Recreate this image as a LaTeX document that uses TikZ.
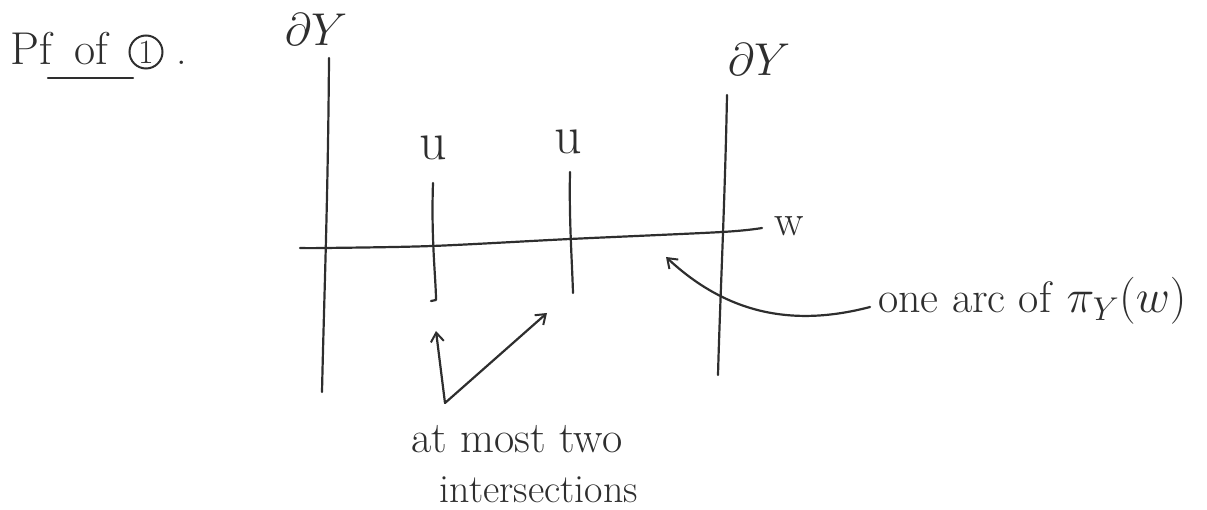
\RequirePackage{fix-cm}
\documentclass[tikz,border=0pt]{standalone}
\usetikzlibrary{arrows.meta}
\definecolor{ink}{HTML}{2E2E2E}
\tikzset{
  stroke/.style={line width=2.2pt, line cap=round, line join=round, draw=ink},
  arr/.style={stroke, -{Straight Barb[length=9pt,width=13pt,line width=2pt]}},
  lbl/.style={inner sep=0pt, text=ink, font=\fontsize{42}{50}\selectfont},
  ulbl/.style={lbl, font=\fontsize{54}{60}\selectfont},
  dlbl/.style={lbl, font=\fontsize{46}{54}\selectfont},
}
\begin{document}
\begin{tikzpicture}[x=1pt,y=-1pt]
\useasboundingbox (0,0) rectangle (1207,510);

% title
\node[lbl, font=\fontsize{46}{54}\selectfont, anchor=base west] (pf) at (10,65) {Pf\hspace{0.5em}of};
\node[draw=ink, line width=2pt, circle, minimum size=33pt, inner sep=0pt, text=ink,
      font=\fontsize{34}{40}\selectfont] (one) at (146,52) {1};
\node[lbl, anchor=base] (dot) at (182,65) {.};
\coordinate (ul1) at (48,78);
\coordinate (ul2) at (133,78);
\draw[stroke] (ul1) -- (ul2);

% boundary labels
\node[dlbl] (dyl) at (316,30) {$\partial Y$};
\node[dlbl] (dyr) at (759,60) {$\partial Y$};

% left boundary
\coordinate (lt) at (329,58);
\coordinate (lb) at (322,392);
\draw[stroke] (lt) .. controls (328,200) and (324,300) .. (lb);

% right boundary
\coordinate (rt) at (727,95);
\coordinate (rb) at (718,375);
\draw[stroke] (rt) .. controls (725,200) and (720,300) .. (rb);

% w curve
\coordinate (wl) at (300,248);
\coordinate (wr) at (762,228);
\draw[stroke] plot[smooth, tension=0.5] coordinates {(wl) (325,248) (432,246) (570,239) (722,232) (wr)};
\node[lbl, font=\fontsize{44}{50}\selectfont, anchor=base] (w) at (789,236) {w};

% u arcs
\node[ulbl] (u1) at (433,148) {u};
\node[ulbl] (u2) at (568,142) {u};
\coordinate (u1t) at (433,183);
\coordinate (u1b) at (436,300);
\coordinate (u1h) at (431,301);
\draw[stroke] (u1t) .. controls (431,240) and (436,280) .. (u1b) -- (u1h);
\coordinate (u2t) at (570,172);
\coordinate (u2b) at (573,293);
\draw[stroke] (u2t) .. controls (569,220) and (572,260) .. (u2b);

% intersections arrows
\coordinate (v) at (445,403);
\coordinate (t1) at (436,331);
\coordinate (t2) at (547,313);
\draw[arr] (v) -- (t1);
\draw[arr] (v) -- (t2);
\node[lbl, font=\fontsize{44}{50}\selectfont, anchor=base] (most) at (517,452) {at most two};
\node[lbl, font=\fontsize{40}{46}\selectfont, anchor=base] (inter) at (539,502) {intersections};

% arc label
\node[lbl, font=\fontsize{44}{50}\selectfont, anchor=base west] (arc) at (878,313)
  {one arc of\hspace{0.35em}{\fontsize{47}{54}\selectfont$\pi_Y(w)$}};
\coordinate (as) at (870,307);
\coordinate (at) at (666,257);
\draw[arr] (as) .. controls (790,328) and (725,312) .. (at);
\end{tikzpicture}
\end{document}
